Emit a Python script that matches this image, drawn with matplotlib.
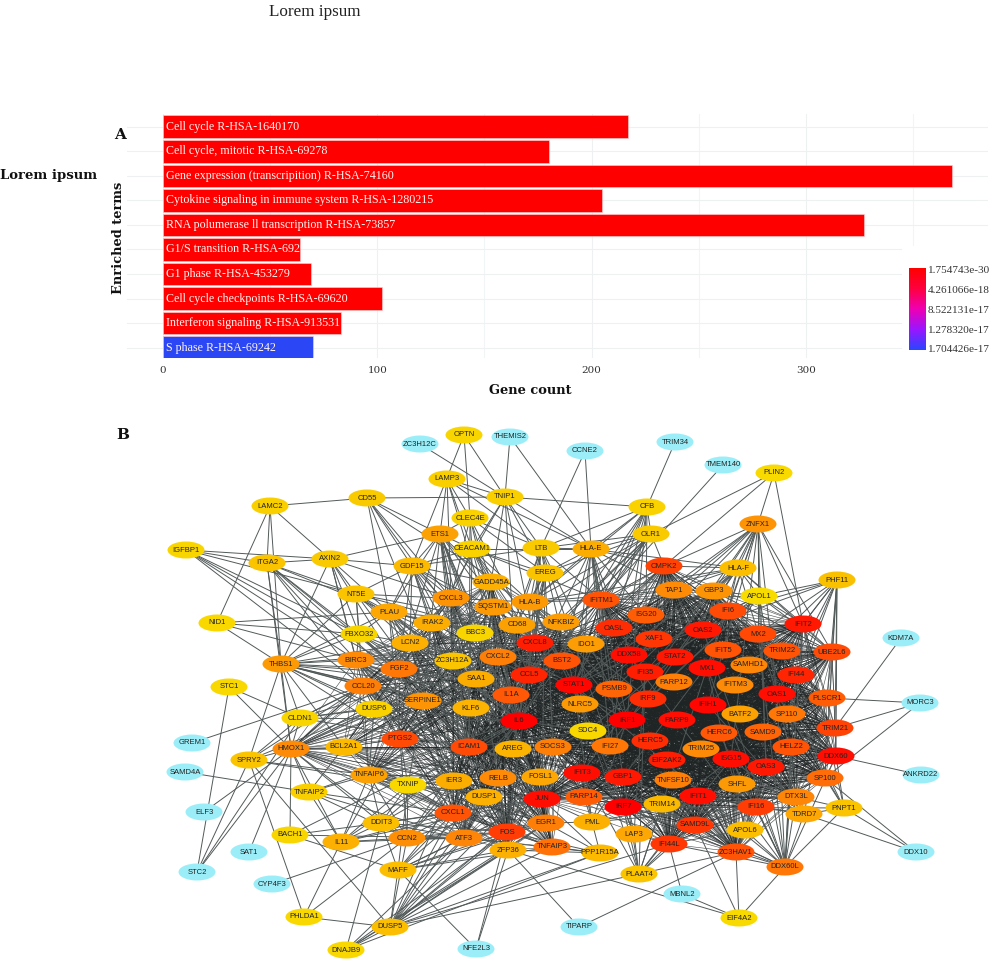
import numpy as np
import matplotlib
matplotlib.use("Agg")
import matplotlib.pyplot as plt
from itertools import combinations
from matplotlib.collections import LineCollection
from matplotlib.colors import LinearSegmentedColormap
from matplotlib.patches import Ellipse, Rectangle

# Panel A
terms = ["Cell cycle R-HSA-1640170", "Cell cycle, mitotic R-HSA-69278",
         "Gene expression (transcripition) R-HSA-74160",
         "Cytokine signaling in immune system R-HSA-1280215",
         "RNA polumerase ll transcription R-HSA-73857",
         "G1/S transition R-HSA-69206", "G1 phase R-HSA-453279",
         "Cell cycle checkpoints R-HSA-69620",
         "Interferon signaling R-HSA-913531", "S phase R-HSA-69242"]
gene_counts = [217, 180, 368, 205, 327, 64, 69, 102, 83, 70]
p_colors = ["#ff0000"] * 9 + ["#2b46f5"]
p_labels = ["1.754743e-30", "4.261066e-18", "8.522131e-17", "1.278320e-17", "1.704426e-17"]

# Panel B - layout (score 0 = no colour scale, cyan)
gene_names = ["ZC3H12C", "OPTN", "THEMIS2", "CCNE2", "TRIM34", "TMEM140", "PLIN2", "LAMP3",
              "TNIP1", "CD55", "LAMC2", "CFB", "CLEC4E", "ZNFX1", "ETS1", "OLR1",
              "IGFBP1", "CEACAM1", "LTB", "HLA-E", "ITGA2", "AXIN2", "GDF15", "CMPK2",
              "HLA-F", "EREG", "PHF11", "GADD45A", "TAP1", "GBP3", "NT5E", "CXCL3",
              "APOL1", "IFITM1", "HLA-B", "SQSTM1", "IFI6", "PLAU", "ISG20", "NFKBIZ",
              "NID1", "IRAK2", "IFIT2", "CD68", "OASL", "OAS2", "BBC3", "FBXO32",
              "MX2", "XAF1", "CXCL8", "LCN2", "IDO1", "IFIT5", "TRIM22", "UBE2L6",
              "DDX58", "STAT2", "CXCL2", "BIRC3", "BST2", "ZC3H12A", "THBS1", "SAMHD1",
              "FGF2", "MX1", "IFI35", "CCL5", "IFI44", "SAA1", "PARP12", "IFITM3",
              "PSMB9", "CCL20", "STC1", "STAT1", "OAS1", "IL1A", "PLSCR1", "IRF9",
              "SERPINE1", "NLRC5", "IFIH1", "MORC3", "KLF6", "DUSP6", "BATF2", "SP110",
              "CLDN1", "PARP9", "IL6", "IRF1", "TRIM21", "SDC4", "HERC6", "SAMD9",
              "PTGS2", "HERC5", "GREM1", "ICAM1", "SOCS3", "BCL2A1", "IFI27", "HELZ2",
              "AREG", "HMOX1", "TRIM25", "DDX60", "ISG15", "EIF2AK2", "SPRY2", "OAS3",
              "SAMD4A", "IFIT3", "TNFAIP6", "ANKRD22", "GBP1", "RELB", "FOSL1", "SP100",
              "TNFSF10", "IER3", "SHFL", "TXNIP", "TNFAIP2", "IFIT1", "DTX3L", "DUSP1",
              "JUN", "PARP14", "TRIM14", "IRF7", "IFI16", "PNPT1", "ELF3", "CXCL1",
              "TDRD7", "EGR1", "DDIT3", "PML", "SAMD9L", "APOL6", "FOS", "LAP3",
              "BACH1", "CCN2", "ATF3", "IL11", "IFI44L", "TNFAIP3", "ZFP36", "ZC3HAV1",
              "SAT1", "DDX10", "PPP1R15A", "MAFF", "STC2", "DDX60L", "PLAAT4", "CYP4F3",
              "MBNL2", "PHLDA1", "EIF4A2", "DUSP5", "TIPARP", "NFE2L3", "DNAJB9", "KDM7A"]
gene_x = [420, 464, 510, 585, 675, 723, 774, 447,
          505, 367, 270, 647, 470, 758, 440, 651,
          186, 472, 541, 591, 267, 330, 412, 664,
          738, 545, 837, 491, 674, 714, 356, 451,
          759, 601, 530, 493, 728, 389, 646, 561,
          217, 432, 803, 517, 614, 703, 475, 359,
          758, 654, 535, 410, 586, 723, 782, 832,
          629, 675, 498, 356, 562, 453, 281, 749,
          399, 707, 645, 529, 796, 476, 674, 735,
          614, 363, 229, 574, 777, 511, 827, 648,
          423, 580, 708, 920, 471, 374, 740, 787,
          300, 677, 519, 627, 835, 588, 719, 763,
          400, 650, 192, 469, 553, 344, 610, 791,
          513, 291, 701, 836, 731, 667, 249, 766,
          185, 582, 369, 921, 623, 498, 540, 825,
          673, 454, 737, 408, 309, 698, 796, 484,
          542, 584, 662, 623, 756, 844, 204, 453,
          804, 546, 381, 592, 695, 745, 507, 634,
          290, 407, 464, 341, 669, 552, 508, 736,
          249, 916, 600, 398, 197, 785, 639, 272,
          682, 304, 739, 390, 579, 476, 346, 901]
gene_y = [444, 435, 437, 451, 442, 465, 473, 479,
          497, 498, 506, 507, 518, 524, 534, 534,
          550, 549, 548, 549, 563, 559, 566, 566,
          568, 573, 580, 582, 590, 591, 594, 598,
          596, 600, 602, 607, 611, 612, 615, 622,
          623, 623, 624, 625, 628, 630, 633, 634,
          634, 639, 643, 643, 644, 650, 651, 652,
          655, 657, 657, 660, 661, 661, 664, 665,
          669, 668, 672, 675, 675, 679, 682, 685,
          689, 686, 687, 685, 694, 695, 698, 699,
          701, 704, 705, 703, 708, 709, 714, 714,
          718, 720, 721, 720, 728, 731, 733, 732,
          739, 741, 743, 747, 747, 747, 746, 747,
          749, 749, 749, 756, 759, 760, 760, 767,
          772, 773, 775, 775, 777, 778, 777, 778,
          780, 781, 784, 785, 792, 796, 797, 797,
          799, 797, 804, 807, 807, 808, 812, 813,
          814, 823, 823, 822, 825, 830, 832, 834,
          835, 838, 838, 842, 844, 847, 850, 852,
          852, 852, 853, 870, 872, 867, 874, 884,
          894, 917, 918, 927, 927, 949, 950, 638]
gene_score = [0, 8, 0, 0, 0, 0, 5, 12,
              12, 15, 12, 10, 10, 45, 38, 15,
              8, 10, 15, 32, 18, 15, 25, 78,
              22, 18, 20, 30, 50, 45, 18, 45,
              4, 72, 42, 42, 75, 35, 68, 40,
              6, 32, 92, 38, 85, 92, 8, 8,
              76, 82, 90, 30, 40, 72, 72, 75,
              95, 92, 55, 50, 72, 18, 42, 52,
              58, 95, 90, 88, 88, 32, 55, 50,
              65, 55, 6, 98, 95, 70, 68, 85,
              45, 42, 98, 0, 28, 10, 38, 58,
              8, 95, 100, 100, 78, 6, 70, 65,
              75, 85, 0, 75, 55, 25, 58, 72,
              28, 50, 50, 95, 95, 90, 18, 92,
              0, 95, 38, 0, 92, 50, 35, 62,
              55, 32, 42, 6, 12, 95, 52, 30,
              95, 68, 25, 100, 80, 18, 0, 72,
              35, 55, 22, 30, 82, 22, 80, 35,
              8, 48, 52, 30, 82, 60, 30, 72,
              0, 0, 25, 22, 0, 58, 18, 0,
              0, 6, 5, 22, 0, 0, 7, 0]

# densely linked groups in the middle of the network
interferon_module = ["CMPK2", "TAP1", "GBP3", "IFITM1", "IFI6", "ISG20", "IFIT2", "OASL", "OAS2", "MX2",
                     "XAF1", "IFIT5", "TRIM22", "UBE2L6", "DDX58", "STAT2", "BST2", "SAMHD1", "MX1",
                     "IFI35", "IFI44", "PARP12", "IFITM3", "PSMB9", "STAT1", "OAS1", "PLSCR1", "IRF9",
                     "NLRC5", "IFIH1", "BATF2", "SP110", "PARP9", "IRF1", "TRIM21", "HERC6", "SAMD9",
                     "HERC5", "IFI27", "HELZ2", "TRIM25", "DDX60", "ISG15", "EIF2AK2", "OAS3", "IFIT3",
                     "GBP1", "SP100", "TNFSF10", "SHFL", "IFIT1", "DTX3L", "PARP14", "TRIM14", "IRF7",
                     "IFI16", "SAMD9L", "IFI44L", "ZC3HAV1"]
inflammatory_module = ["CXCL8", "CCL5", "IL6", "IL1A", "CXCL2", "CXCL3", "CCL20", "PTGS2", "ICAM1", "SOCS3",
                       "AREG", "RELB", "FOSL1", "IER3", "DUSP1", "JUN", "CXCL1", "EGR1", "FOS", "ATF3",
                       "TNFAIP3", "ZFP36", "KLF6", "SERPINE1", "FGF2", "SAA1", "NFKBIZ", "IDO1", "CD68",
                       "IRAK2", "BIRC3", "LCN2", "TNFAIP6", "HMOX1", "BCL2A1", "SQSTM1", "GADD45A", "ZC3H12A"]
bridge_genes = ["IL6", "CCL5", "CXCL8", "IDO1", "ICAM1", "JUN", "SOCS3", "IL1A", "CXCL2"]

# the rest of the links, first gene joined to each of the others
link_rows = [
    "ZC3H12C TNIP1", "OPTN GDF15 CLEC4E TNIP1", "THEMIS2 HLA-E TNIP1", "CCNE2 LTB HLA-E", "TRIM34 CFB",
    "TMEM140 IFITM1", "PLIN2 OLR1 CMPK2 ZNFX1 IFIT2",
    "LAMP3 CXCL3 TNIP1 CEACAM1 CLEC4E ETS1 HLA-E LTB IL6",
    "TNIP1 CFB LTB EREG CD55 CEACAM1 IL6 CXCL8 HLA-E IRAK2 GADD45A",
    "CD55 LAMC2 GDF15 ETS1 CXCL3 PLAU IL1A NFKBIZ ICAM1",
    "LAMC2 ITGA2 AXIN2 NID1 THBS1",
    "IGFBP1 ITGA2 AXIN2 NT5E FBXO32 BIRC3 FGF2 CCL20",
    "ITGA2 AXIN2 NT5E PLAU FBXO32 THBS1 BIRC3 HMOX1 CCL20 FGF2 SERPINE1",
    "AXIN2 GDF15 NT5E THBS1 FBXO32 BIRC3 CXCL3 PLAU ETS1 CCL20 FGF2",
    "NID1 PLAU THBS1 BIRC3 FBXO32",
    "THBS1 BIRC3 FGF2 FBXO32 NT5E PLAU LCN2 CCL20 DUSP6 SERPINE1 KLF6 IL6 PTGS2 HMOX1 CLDN1 SPRY2 ICAM1 SAA1 IL1A CXCL8 BCL2A1",
    "STC1 STC2 CLDN1 HMOX1", "GREM1 CCL20", "SAMD4A TNFAIP2", "ELF3 HMOX1", "STC2 HMOX1 SPRY2 CLDN1",
    "SAT1 HMOX1", "CYP4F3 CCN2", "SPRY2 PHLDA1 DUSP5 HMOX1 CLDN1 TNFAIP6 DUSP6 CCL20 DUSP1",
    "BACH1 HMOX1 MAFF DDIT3 ATF3 IL6", "PHLDA1 DUSP5 IL11 CCN2",
    "DNAJB9 DDIT3 DUSP5 ATF3 ZFP36 PPP1R15A FOS EGR1", "NFE2L3 MAFF ZFP36 FOS",
    "DUSP5 MAFF CCN2 ATF3 FOS EGR1 JUN ZFP36 TNFAIP3 PPP1R15A IER3 DUSP1 IL6 CXCL1 FOSL1 PLAAT4 IFI44L",
    "MAFF ATF3 FOS DDIT3 JUN EGR1 ZFP36 TNFAIP3 CXCL1 DUSP1 IL6 TXNIP",
    "CCN2 IL11 ATF3 DDIT3 TXNIP CXCL1 IL6 JUN EGR1 TNFAIP6 IER3 ICAM1 FOS PTGS2 HMOX1 TNFAIP2",
    "IL11 DDIT3 TNFAIP6 HMOX1 IL6 ATF3 TXNIP CXCL1 PTGS2 JUN TNFAIP2",
    "DDIT3 TXNIP ATF3 FOS JUN HMOX1 CXCL1 ICAM1 IER3 TNFAIP6",
    "TXNIP HMOX1 IL6 JUN ICAM1 PTGS2 TNFAIP6 BCL2A1 IER3 CXCL1 SERPINE1",
    "TNFAIP2 HMOX1 TNFAIP6 CXCL1 IL6 BCL2A1 ATF3", "TNFAIP6 BCL2A1 CCL20 DUSP6 SERPINE1 KLF6",
    "HMOX1 BCL2A1 TNFAIP6 DUSP6 CCL20 KLF6 PTGS2 SERPINE1 SAA1 IL1A CXCL8 CLDN1 FOSL1",
    "CLDN1 DUSP6 CCL20 SERPINE1 IL6 FGF2 ICAM1 CXCL8", "DUSP6 SERPINE1 KLF6 FGF2 ICAM1 IL6 CCL20 CXCL8 JUN",
    "NT5E GDF15 PLAU FBXO32 IL6 CCL20 CXCL8 ICAM1 LCN2 IL1A CD68 HLA-B",
    "FBXO32 PLAU LCN2 FGF2 IL6 IL1A JUN BIRC3 KLF6 ICAM1",
    "GDF15 ETS1 PLAU CXCL3 IRAK2 LCN2 FGF2 BBC3 IL6 CXCL8 JUN GADD45A SQSTM1 CEACAM1 LTB KLF6 ICAM1",
    "ETS1 CLEC4E CEACAM1 CXCL3 GADD45A SQSTM1 PLAU IL6 CXCL8 JUN ICAM1 IL1A SAA1 BBC3 ZC3H12A KLF6 FGF2 SERPINE1",
    "CLEC4E CEACAM1 CXCL3 CXCL8 IL6 LTB GADD45A EREG ICAM1",
    "CEACAM1 GADD45A CXCL3 HLA-E IL6 CXCL8 EREG ICAM1 HLA-B IFITM1 BST2 CCL5",
    "PLAU IRAK2 LCN2 FGF2 IL6 CXCL8 IL1A CCL5 ICAM1 SAA1 SERPINE1 KLF6 PTGS2 CD68 BBC3",
    "BBC3 IL6 JUN CXCL2 ZC3H12A SQSTM1 GADD45A CCL5 STAT1 IRF1 CD68 FOS",
    "LTB CFB OLR1 HLA-E EREG CCL5 STAT1 IL6 CXCL8 HLA-B IRF1 ICAM1 IFITM1 IFI27 CD68",
    "EREG HLA-E IL6 CXCL8 AREG JUN FOS SOCS3 IL1A HLA-B CXCL2",
    "CFB OLR1 HLA-E HLA-B IFITM1 STAT1 IRF1 IL6 ISG20 OASL CCL5 IFI27",
    "OLR1 HLA-E CMPK2 EREG IL1A IL6 CXCL8 CCL5 IFITM1 CD68 NFKBIZ STAT1 HLA-B",
    "ZNFX1 CMPK2 HLA-F TAP1 GBP3 APOL1 IFIT2 IFI6 UBE2L6 MX2 OAS2 IFIH1 DDX58 IFIT3 ISG15 STAT1 OASL MX1 OAS1 OAS3",
    "HLA-E HLA-F CMPK2 HLA-B IFITM1 TAP1 STAT1 IRF1 PSMB9 GBP1 EREG ISG20 OASL IRF9 BST2 CCL5 NLRC5 IFI27",
    "HLA-B HLA-F TAP1 PSMB9 STAT1 IRF1 IFITM1 BST2 IRF9 NLRC5 CCL5",
    "HLA-F CMPK2 TAP1 GBP3 APOL1 IFI6 IFIT2 PSMB9 IFITM1 IFI27 IFI35 MX1 IRF9 STAT1 OAS1 NLRC5 UBE2L6",
    "APOL1 GBP3 IFIT2 PHF11 STAT1 IFI35 IFI6 IRF1 IFITM1 OAS1 IRF9 GBP1 UBE2L6 OAS3",
    "PHF11 IFIT2 UBE2L6 TRIM22 IFI44 PLSCR1 TRIM21 DDX60 MX2 SP110 OAS1 IFI6 IFIH1 SP100 DDX58",
    "KDM7A TRIM21", "MORC3 PLSCR1 TRIM21 SP100", "ANKRD22 DDX60",
    "DDX10 PNPT1 SP100 TDRD7", "PNPT1 DDX60L SP100 DTX3L TDRD7 DDX60 IFIT2 OAS1 MX2 IRF7",
    "EIF4A2 ZC3HAV1 SAMD9L DDX60L ZFP36 MBNL2", "MBNL2 IFI44L", "TIPARP ZFP36 ZC3HAV1",
    "PLAAT4 IFI44L ZC3HAV1 LAP3 IRF7 TRIM14 IFIT1 SAMD9L IFIT3 GBP1 ISG15 IFI35 STAT1 MX1 DUSP5",
    "PPP1R15A DUSP5 FOS JUN EGR1 ATF3 ZFP36 TNFAIP3 PML",
    "PML IRF7 IFIT3 EGR1 STAT1 IFI16 JUN GBP1 PARP14 IRF1 SP100",
    "LAP3 IRF7 IFIT1 IFI44L GBP1 STAT1 IFI35 ISG15",
    "APOL6 DDX60L IFI16 IFIT1 GBP1 STAT1 IRF7 ZC3HAV1 OAS3 ISG15 MX1 IFI44L",
    "TDRD7 DDX60L DTX3L IFI16 PLSCR1 OAS3 OAS1 IFIH1 ISG15 IFIT1",
    "DDX60L IFI16 DTX3L SAMD9L APOL6 ZC3HAV1 IFIT1 OAS3 ISG15 HELZ2 IFIT3 IFI44L IFI44 MX1 MX2 OAS1 OAS2 IRF7 DDX60 IFIT2 DDX58 HERC6",
    "SDC4 IL6 STAT1 JUN ICAM1 IRF1 SOCS3 STAT2",
]

network_cmap = LinearSegmentedColormap.from_list(
    "network", ["#f8e200", "#fbb900", "#fd8b08", "#ff4c05", "#ff0000"])
p_cmap = LinearSegmentedColormap.from_list(
    "pvalue", ["#2b46ff", "#9a16ff", "#ee00b4", "#ff0040", "#ff0000"])

serif = "DejaVu Serif"
narrow = "Liberation Serif"

fig = plt.figure(figsize=(10, 9.68), dpi=100)

# background axes in picture units for the network and the loose text
net = fig.add_axes([0, 0, 1, 1], zorder=1)
net.set_xlim(0, 1000)
net.set_ylim(968, 0)
net.axis("off")

pos = dict(zip(gene_names, zip(gene_x, gene_y)))
score = dict(zip(gene_names, gene_score))

core_pairs = set()
for a, b in combinations(interferon_module, 2):
    core_pairs.add(frozenset((a, b)))
for a, b in combinations(inflammatory_module, 2):
    core_pairs.add(frozenset((a, b)))
for a in bridge_genes:
    for b in interferon_module:
        core_pairs.add(frozenset((a, b)))
outer_pairs = set()
for row in link_rows:
    parts = row.split()
    for b in parts[1:]:
        outer_pairs.add(frozenset((parts[0], b)))
outer_pairs -= core_pairs


def pair_segments(pairs):
    segs = []
    for pair in sorted(pairs, key=sorted):
        a, b = sorted(pair)
        segs.append([pos[a], pos[b]])
    return segs


net.add_collection(LineCollection(pair_segments(core_pairs), colors="#1f2424", linewidths=0.42, alpha=0.8, zorder=1))
net.add_collection(LineCollection(pair_segments(outer_pairs), colors="#525959", linewidths=0.7, zorder=1))

for name in gene_names:
    x, y = pos[name]
    s = score[name]
    color = "#9beef8" if s == 0 else network_cmap(s / 100)
    net.add_patch(Ellipse((x, y), 37, 17, facecolor=color, edgecolor="none", zorder=2))
    net.text(x, y, name, ha="center", va="center", fontsize=5.5, color="#222222",
             family="Liberation Sans", zorder=3)

net.text(315, 12, "Lorem ipsum", ha="center", va="center", fontsize=12.3, family="Liberation Serif", color="#222222")
net.text(49, 176, "Lorem ipsum", ha="center", va="center", fontsize=9.5, family=serif, weight="bold", color="#111111")
net.text(120, 135, "A", ha="center", va="center", fontsize=11, family=serif, weight="bold", color="#111111")
net.text(123, 435, "B", ha="center", va="center", fontsize=11, family=serif, weight="bold", color="#111111")
net.text(118, 238, "Enriched terms", ha="center", va="center", rotation=90, fontsize=9.4, family=serif,
         weight="bold", color="#111111")
net.text(530, 391, "Gene count", ha="center", va="center", fontsize=9.4, family=serif, weight="bold", color="#111111")

# Panel A
ax = fig.add_axes([0.127, 1 - 358 / 968, 0.861, (358 - 114) / 968], zorder=2)
ax.patch.set_alpha(0)
ypos = np.arange(len(terms))
ax.set_axisbelow(True)
ax.barh(ypos, gene_counts, height=0.92, color=p_colors, edgecolor="#ffd0d0", linewidth=0.4, zorder=3)
ax.set_xlim(-16.8, 385)
ax.set_ylim(9.42, -0.517)
ax.set_xticks([0, 100, 200, 300])
ax.set_xticks([50, 150, 250, 350], minor=True)
ax.set_yticks(ypos)
ax.set_yticklabels([])
ax.grid(True, which="major", color="#eef1f1", linewidth=0.8)
ax.grid(True, which="minor", axis="x", color="#f2f5f5", linewidth=0.8)
ax.tick_params(which="both", length=0)
ax.tick_params(axis="x", labelsize=7.5, labelcolor="#333333", pad=6)
for lab in ax.get_xticklabels():
    lab.set_family(serif)
for side in ax.spines.values():
    side.set_visible(False)
for i, term in enumerate(terms):
    txt = ax.text(1.5, i, term, ha="left", va="center", fontsize=8.65, family=narrow, color="#fff4f0", zorder=4,
                  clip_on=True)
    txt.set_clip_path(Rectangle((0, i - 0.46), gene_counts[i], 0.92, transform=ax.transData))

# legend block hides the grid under it
ax.add_patch(Rectangle((0.90, 0.0), 0.10, 0.46, transform=ax.transAxes, facecolor="white", edgecolor="none", zorder=2))

# P value colour bar
cax = fig.add_axes([0.909, 1 - 350 / 968, 0.017, 82 / 968], zorder=3)
cax.imshow(np.linspace(1, 0, 200).reshape(-1, 1), aspect="auto", cmap=p_cmap, extent=[0, 1, 0, 1])
ticks = [0.985, 0.74, 0.49, 0.245, 0.015]
cax.set_xticks([])
cax.yaxis.tick_right()
cax.set_yticks(ticks)
cax.set_yticklabels(p_labels, fontsize=8.1, family=narrow, color="#333333")
cax.tick_params(axis="y", length=0, pad=1)
for side in cax.spines.values():
    side.set_visible(False)
net.text(909, 259, "P value", ha="left", va="center", fontsize=9, family=narrow, color="#222222", zorder=5)

fig.savefig("out.png", dpi=100)
